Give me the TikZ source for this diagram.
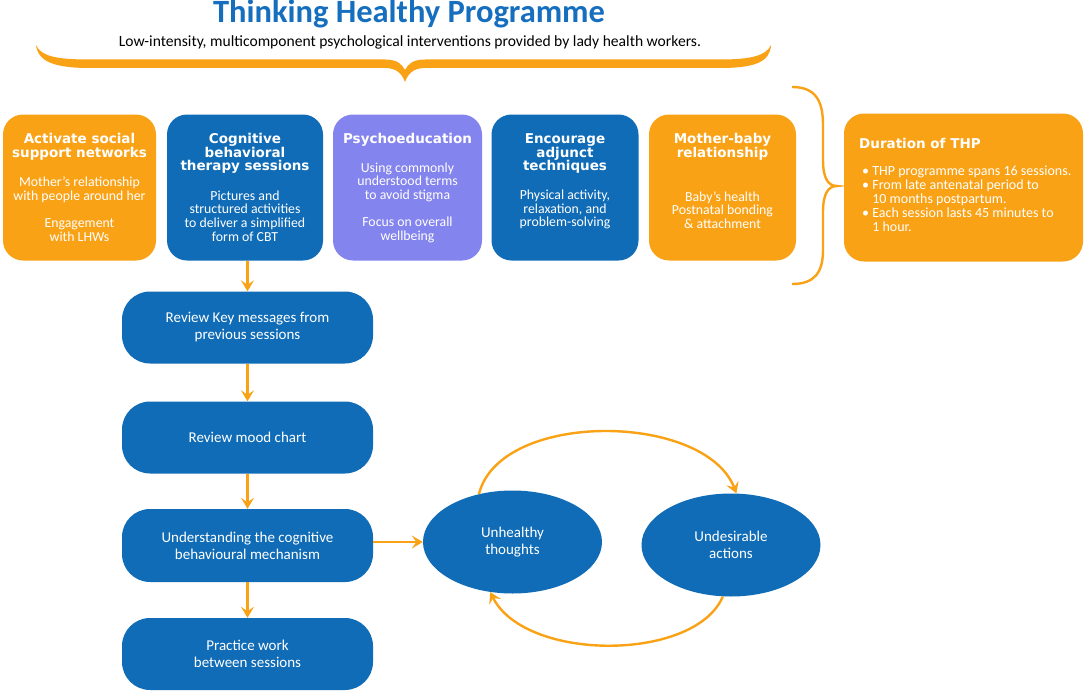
\documentclass[tikz,border=0pt]{standalone}
\usepackage{fontspec}
\setmainfont{Carlito}
\newfontfamily\heavyfont{DejaVu Sans}
\usetikzlibrary{arrows.meta,shapes.geometric}
\definecolor{thpblue}{RGB}{16,108,182}
\definecolor{thporange}{RGB}{250,162,22}
\definecolor{thppurple}{RGB}{132,132,238}
\definecolor{titleblue}{RGB}{22,110,190}
\tikzset{
  topbox/.style={rectangle, rounded corners=20pt, inner sep=0pt, minimum height=146pt},
  ttl/.style={text=white, align=center, inner sep=0pt, font={\heavyfont\bfseries\fontsize{13.5}{13.6}\selectfont}},
  bdy/.style={text=white, align=center, inner sep=0pt, font={\fontsize{13.8}{13.6}\selectfont}},
  flowbox/.style={rectangle, fill=thpblue, rounded corners=28pt, minimum width=251pt, minimum height=72pt, inner sep=0pt, text=white, align=center, font={\fontsize{15}{17}\selectfont}},
  cyc/.style={ellipse, fill=thpblue, minimum width=179pt, minimum height=103pt, inner sep=0pt, text=white, align=center, font={\fontsize{15}{17}\selectfont}},
  link/.style={draw=thporange, line width=2.4pt, -{Stealth[length=11pt,width=13pt,inset=4.5pt]}},
}
\begin{document}
\begin{tikzpicture}[x=1pt,y=-1pt]
\useasboundingbox (0,0) rectangle (1084,693);
% title
\node[text=titleblue, inner sep=0pt, font={\bfseries\fontsize{32.5}{32}\selectfont}] (title) at (409,14) {Thinking Healthy Programme};
\node[inner sep=0pt, font={\fontsize{15.6}{16}\selectfont}] (sub) at (410,42) {Low-intensity, multicomponent psychological interventions provided by lady health workers.};
% top brace
\fill[thporange] (36,45) .. controls (38,62) and (55,68) .. (90,68) -- (385,68)
  .. controls (397,68) and (402,74) .. (405,82)
  .. controls (408,74) and (413,68) .. (425,68) -- (720,68)
  .. controls (755,68) and (770,62) .. (771,45)
  .. controls (766,56) and (750,59.5) .. (720,59.5) -- (425,59.5)
  .. controls (413,59.5) and (408,64) .. (405,70)
  .. controls (402,64) and (397,59.5) .. (385,59.5) -- (90,59.5)
  .. controls (55,59.5) and (41,56) .. (36,45) -- cycle;
% top row boxes
\node[topbox, fill=thporange, minimum width=153pt] (box1) at (79.5,187.5) {};
\node[topbox, fill=thpblue, minimum width=156pt] (box2) at (245,187.5) {};
\node[topbox, fill=thppurple, minimum width=149pt] (box3) at (407.5,187.5) {};
\node[topbox, fill=thpblue, minimum width=147pt] (box4) at (565,187.5) {};
\node[topbox, fill=thporange, minimum width=147pt] (box5) at (722.5,187.5) {};
\node[topbox, fill=thporange, minimum width=239pt, minimum height=148pt] (dur) at (963.5,187.5) {};
% box texts
\node[ttl] (t1) at (79.5,146.5) {Activate social\\support networks};
\node[bdy] (b1a) at (79.5,189.5) {Mother's relationship\\with people around her};
\node[bdy] (b1b) at (79.5,230) {Engagement\\with LHWs};
\node[ttl] (t2) at (245,153.5) {Cognitive\\behavioral\\therapy sessions};
\node[bdy] (b2) at (245,216) {Pictures and\\structured activities\\to deliver a simplified\\form of CBT};
\node[ttl] (t3) at (407.5,140) {Psychoeducation};
\node[bdy] (b3a) at (407.5,182) {Using commonly\\understood terms\\to avoid stigma};
\node[bdy] (b3b) at (407.5,230) {Focus on overall\\wellbeing};
\node[ttl] (t4) at (565,153.5) {Encourage\\adjunct\\techniques};
\node[bdy] (b4) at (565,209.5) {Physical activity,\\relaxation, and\\problem-solving};
\node[ttl] (t5) at (722.5,146.5) {Mother-baby\\relationship};
\node[bdy] (b5) at (722.5,210) {Baby’s health\\Postnatal bonding\\\& attachment};
\node[ttl, anchor=west, font={\heavyfont\bfseries\fontsize{13.5}{14}\selectfont}] (t6) at (859,143) {Duration of THP};
\node[bdy, align=left, anchor=west, font={\fontsize{14}{14}\selectfont}] (b6) at (862,199) {\textbullet\ THP programme spans 16 sessions.\\\textbullet\ From late antenatal period to\\\phantom{\textbullet\ }10 months postpartum.\\\textbullet\ Each session lasts 45 minutes to\\\phantom{\textbullet\ }1 hour.};
% right brace
\draw[thporange, line width=2.4pt] (792,87) .. controls (815,87) and (823,100) .. (823,125) -- (823,160)
  .. controls (823,178) and (828,186) .. (837,186)
  .. controls (828,186) and (823,194) .. (823,212) -- (823,250)
  .. controls (823,272) and (815,284) .. (792,284);
% flow boxes
\node[flowbox] (f1) at (247.5,327.5) {Review Key messages from\\previous sessions};
\node[flowbox] (f2) at (247.5,437.5) {Review mood chart};
\node[flowbox, minimum height=73pt] (f3) at (247.5,545.5) {Understanding the cognitive\\behavioural mechanism};
\node[flowbox] (f4) at (247.5,654) {Practice work\\between sessions};
% ellipses
\node[cyc] (ut) at (512.5,542) {Unhealthy\\thoughts};
\node[cyc] (ua) at (731,545) {Undesirable\\actions};
% arrows
\draw[link] (box2.south -| f1.north) -- (f1.north);
\draw[link] (f1) -- (f2);
\draw[link] (f2) -- (f3);
\draw[link] (f3) -- (f4);
\draw[link] (f3.east |- ut.west) -- (ut.west);
\draw[link] (ut.125) .. controls (500,410) and (705,412) .. (ua.84);
\draw[link] (ua.261) .. controls (695,662) and (525,662) .. (ut.246);
\end{tikzpicture}
\end{document}
